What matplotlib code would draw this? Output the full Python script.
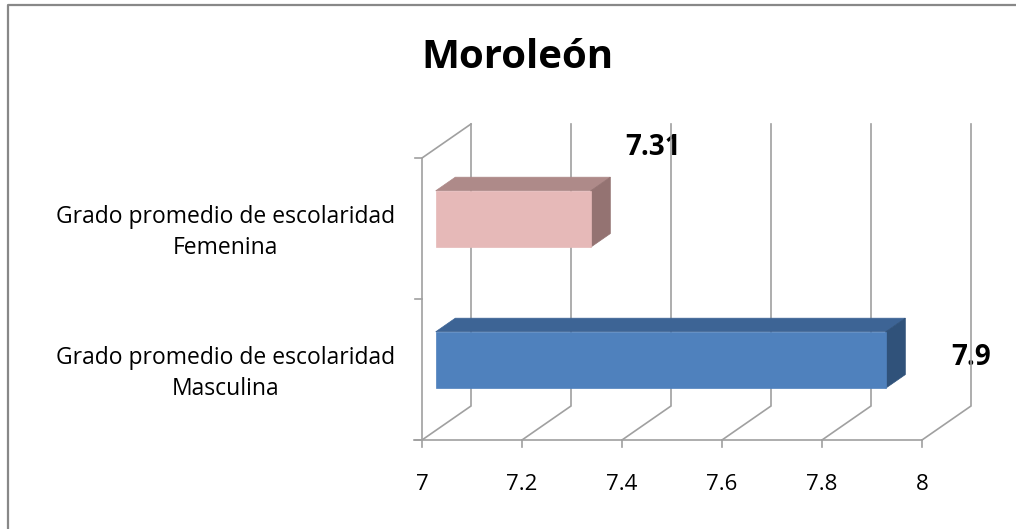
import matplotlib
matplotlib.use("Agg")
import matplotlib.pyplot as plt
from matplotlib.patches import Polygon
from matplotlib.lines import Line2D
import numpy as np

plt.rcParams['font.family'] = ['Open Sans', 'DejaVu Sans']

# --- data ---
title = "Moroleón"
categories = ["Grado promedio de escolaridad\nMasculina",
              "Grado promedio de escolaridad\nFemenina"]
values = [7.9, 7.31]
value_labels = ["7.9", "7.31"]
x_ticks = [7, 7.2, 7.4, 7.6, 7.8, 8]
x_tick_labels = ["7", "7.2", "7.4", "7.6", "7.8", "8"]

front_colors = ["#4F81BD", "#E6B9B8"]
top_colors = ["#3D6495", "#AE8A89"]
side_colors = ["#30527A", "#947372"]

# layout (pixels of a 1016x529 canvas -> data units)
W, H = 1016, 529
PX_PER_X = 500.0     # pixels per value unit
PX_PER_Y = 141.0     # pixels per category band
X0_PX, Y0_PX = 422, 440
DX = 49 / PX_PER_X   # depth shift of the back wall
DY = 34 / PX_PER_Y
T0, T1 = 0.28, 0.68  # bar front/back depth fraction
BAR_H = 0.4
XMIN = 7.0
# per-label offsets (value units, category units)
label_offsets = [(0.198, 0.082), (0.152, 0.571)]

GRID = "#A0A0A0"


def proj(v, y, t):
    return (v + t * DX, y + t * DY)


fig = plt.figure(figsize=(W / 100, H / 100), dpi=100)
ax = fig.add_axes([0, 0, 1, 1])
ax.set_xlim(XMIN - X0_PX / PX_PER_X, XMIN + (W - X0_PX) / PX_PER_X)
ax.set_ylim(-(H - Y0_PX) / PX_PER_Y, Y0_PX / PX_PER_Y)
ax.axis("off")

ny = len(categories)
lw = 1.2

# floor lines and back wall verticals
for v in x_ticks:
    a, b, c = proj(v, 0, 0), proj(v, 0, 1), proj(v, ny, 1)
    ax.plot([a[0], b[0], c[0]], [a[1], b[1], c[1]], color=GRID, lw=lw, zorder=2,
            solid_joinstyle="miter")
    # small tick below front edge
    ax.plot([v, v], [0, -7 / PX_PER_Y], color=GRID, lw=lw, zorder=2)

# front floor edge
ax.plot([XMIN - 8 / PX_PER_X, x_ticks[-1]], [0, 0], color=GRID, lw=lw, zorder=2)

# left wall
a, b = proj(XMIN, ny, 0), proj(XMIN, ny, 1)
ax.plot([XMIN, a[0], b[0]], [0, a[1], b[1]], color=GRID, lw=lw, zorder=2)
for k in range(ny + 1):
    ax.plot([XMIN - 7 / PX_PER_X, XMIN], [k, k], color=GRID, lw=lw, zorder=2)

# bars
for i, val in enumerate(values):
    yc = i + 0.5
    y_lo, y_hi = yc - BAR_H / 2, yc + BAR_H / 2
    front = [proj(XMIN, y_lo, T0), proj(val, y_lo, T0),
             proj(val, y_hi, T0), proj(XMIN, y_hi, T0)]
    top = [proj(XMIN, y_hi, T0), proj(val, y_hi, T0),
           proj(val, y_hi, T1), proj(XMIN, y_hi, T1)]
    side = [proj(val, y_lo, T0), proj(val, y_hi, T0),
            proj(val, y_hi, T1), proj(val, y_lo, T1)]
    for pts, col in ((top, top_colors[i]), (side, side_colors[i]), (front, front_colors[i])):
        ax.add_patch(Polygon(pts, closed=True, facecolor=col, edgecolor=col,
                             lw=0.5, zorder=3))
    dx, dy = label_offsets[i]
    ax.text(val + dx, yc + dy, value_labels[i], fontsize=20, fontweight="bold",
            ha="center", va="center", zorder=1)

# category labels
for i, cat in enumerate(categories):
    ax.text(XMIN - 27 / PX_PER_X, i + 0.47, cat, fontsize=16.5, ha="right",
            va="center", multialignment="center", linespacing=1.4, zorder=1)

# x tick labels
for v, lab in zip(x_ticks, x_tick_labels):
    ax.text(v, -44 / PX_PER_Y, lab, fontsize=16, ha="center", va="center")

# title
fig.text(517 / W, 1 - 57 / H, title, fontsize=29, fontweight="bold",
         ha="center", va="center")

# chart area border (left and top edges)
fig.add_artist(Line2D([7.5 / W, 7.5 / W, 1.0], [0.0, 1 - 4.5 / H, 1 - 4.5 / H],
                      transform=fig.transFigure, color="#888888", lw=1.6))

fig.savefig("out.png", dpi=100)
